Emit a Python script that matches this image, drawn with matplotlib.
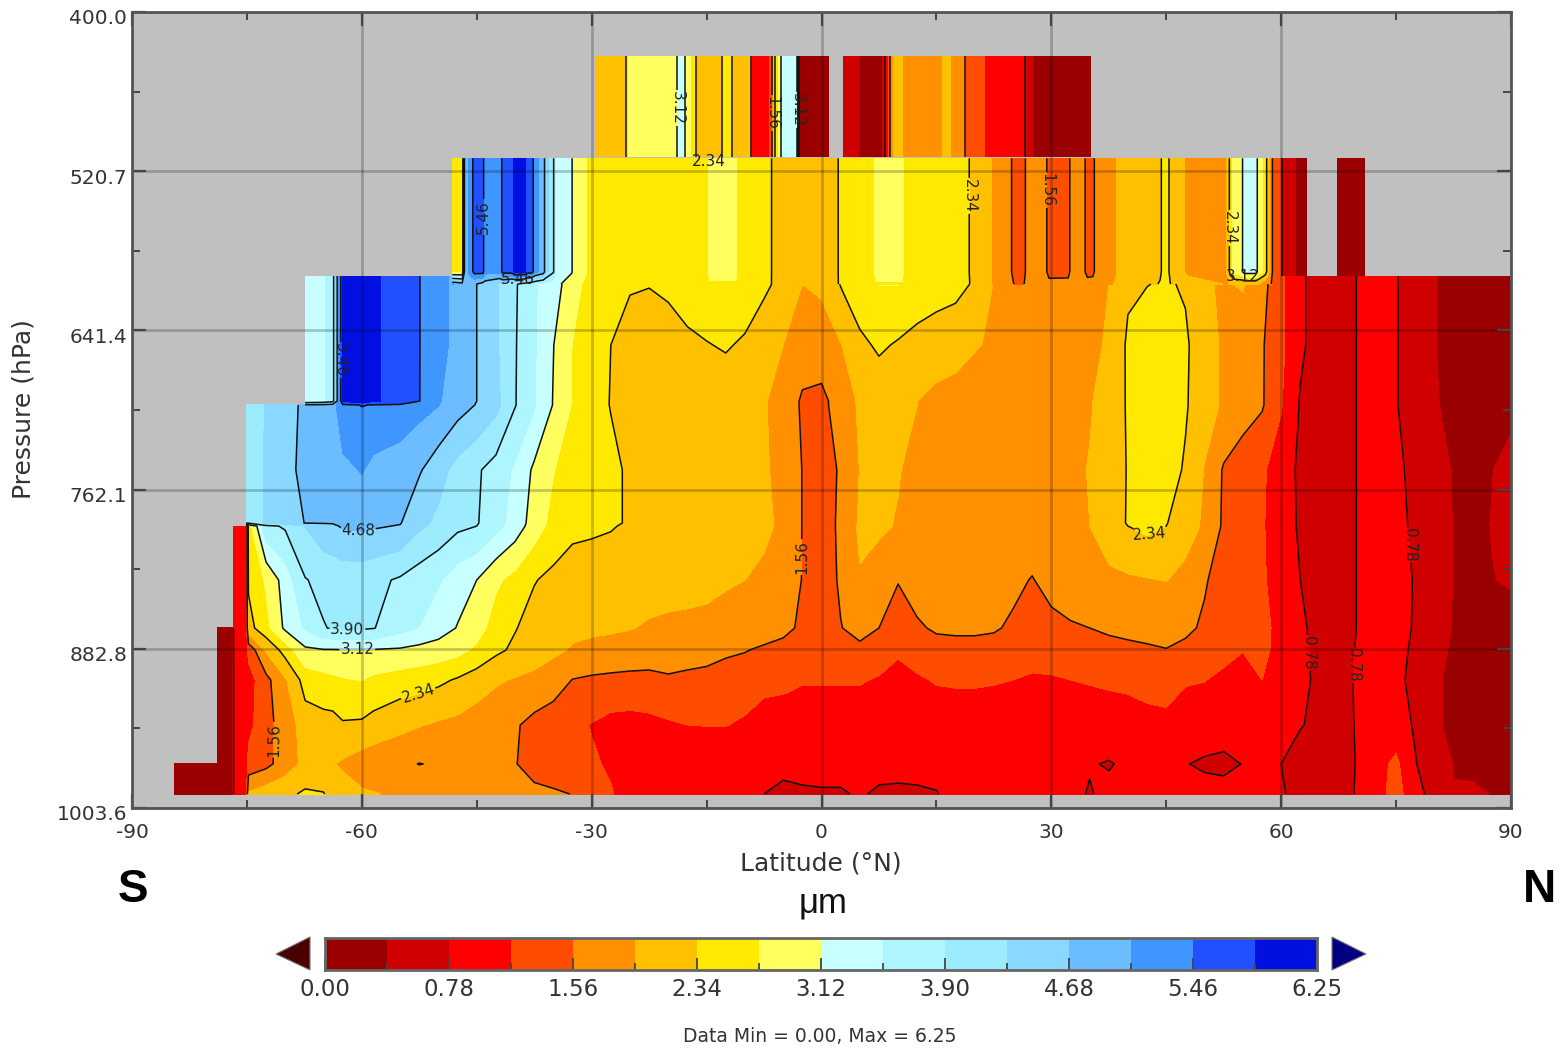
import numpy as np
import matplotlib
matplotlib.use("Agg")
import matplotlib.pyplot as plt
from matplotlib.patches import Polygon
from matplotlib.ticker import FixedLocator
from matplotlib.transforms import ScaledTranslation

nan = float("nan")

levels = [0.00,0.39,0.78,1.17,1.56,1.95,2.34,2.73,3.12,3.51,3.90,4.29,4.68,5.07,5.46,5.85,6.25]
colors = ["#9b0000","#d10000","#ff0000","#ff4d00","#ff9000","#ffc000","#ffe900","#ffff5f",
          "#c8ffff","#adf5ff","#9cebff","#88d8ff","#6cbdff","#4096ff","#2050ff","#0010e0"]
line_levels = [0.78,1.56,2.34,3.12,3.90,4.68,5.46]
lat_ticks = [-90,-60,-30,0,30,60,90]
p_ticks = [400.0,520.7,641.4,762.1,882.8,1003.6]
cbar_labels = ["0.00","0.78","1.56","2.34","3.12","3.90","4.68","5.46","6.25"]

main_lats = [-84.4,-78.8,-77.0,-76.7,-75.1,-74.8,-72.5,-70,
             -67.4,-65,-63.8,-62.5,-60,-58.5,-55,-52.5,-50,-47.5,
             -45,-42.5,-40,-37.5,-35,-32.5,-30,-27.5,-25,-22.5,
             -20,-17.5,-15,-12.5,-10,-7.5,-5,-2.5,0,2.5,
             5,7.5,10,12.5,15,17.5,20,22.5,25,27.5,
             30,32.5,35,37.5,40,42.5,45,47.5,50,52.5,
             55,57.5,60,62.5,65,67.5,70,72.5,75,77.5,
             80,82.5,85,87.5,90]
main_p = [600.2,606.3,652.5,695.0,698.0,747.3,787.5,789.8,830.7,867.1,883.8,906.5,940.7,970.2,993.0]

r276 = [nan,nan,nan,nan,nan,nan,nan,nan,
        3.3,3.45,3.7,5.9,6.2,5.9,5.7,5.47,5.2,4.95,
        nan,nan,nan,nan,nan,nan,nan,nan,nan,nan,
        nan,nan,nan,nan,nan,nan,nan,nan,nan,nan,
        nan,nan,nan,nan,nan,nan,nan,nan,nan,nan,
        nan,nan,nan,nan,nan,nan,nan,nan,nan,nan,
        nan,nan,1.25,.85,.6,.65,.79,1.0,.8,.6,
        .4,.3,.25,.25,.25]
r284 = [nan,nan,nan,nan,nan,nan,nan,nan,
        3.3,3.45,3.7,5.9,6.2,5.9,5.7,5.47,5.2,4.95,
        4.68,4.35,3.95,3.55,3.3,2.9,2.55,2.45,2.36,2.35,
        2.4,2.55,2.62,2.74,2.6,2.4,2.25,1.95,2.0,2.36,
        2.6,2.74,2.74,2.6,2.5,2.45,2.3,1.93,1.6,1.65,
        1.7,1.72,1.8,1.95,2.28,2.33,2.38,2.3,1.98,1.92,
        1.98,1.7,1.25,.85,.6,.65,.79,1.0,.8,.6,
        .4,.3,.25,.25,.25]
r345 = [nan,nan,nan,nan,nan,nan,nan,nan,
        3.3,3.45,3.7,5.9,6.2,5.9,5.7,5.47,5.2,4.95,
        4.68,4.35,3.93,3.55,3.13,2.72,2.45,2.34,2.25,2.2,
        2.2,2.25,2.32,2.38,2.28,2.15,1.95,1.8,1.8,1.93,
        2.25,2.4,2.3,2.2,2.15,2.1,1.98,1.9,1.75,1.75,
        1.72,1.75,1.85,2.0,2.4,2.55,2.55,2.4,2.1,1.9,
        1.75,1.6,1.25,.85,.6,.65,.79,1.0,.8,.6,
        .4,.3,.25,.25,.25]
r401 = [nan,nan,nan,nan,nan,nan,nan,nan,
        3.3,3.45,3.7,5.9,6.2,5.9,5.7,5.47,5.1,4.9,
        4.68,4.4,3.92,3.55,3.1,2.7,2.45,2.33,2.3,2.25,
        2.2,2.2,2.15,2.1,2.05,1.97,1.85,1.5,1.45,1.75,
        2.0,2.1,2.05,1.95,1.85,1.8,1.75,1.75,1.75,1.75,
        1.75,1.8,1.92,2.1,2.38,2.6,2.6,2.38,2.1,1.9,
        1.7,1.6,1.2,.75,.6,.65,.79,1.0,.8,.6,
        .42,.3,.25,.28,.3]
r405 = [nan,nan,nan,nan,3.95,3.98,4.32,4.55,
        4.75,4.8,4.9,5.4,5.47,5.45,5.42,5.2,5.08,4.85,
        4.66,4.4,3.92,3.55,3.1,2.7,2.45,2.33,2.3,2.25,
        2.2,2.2,2.15,2.1,2.05,1.97,1.85,1.5,1.45,1.75,
        2.0,2.1,2.05,1.95,1.85,1.8,1.75,1.75,1.75,1.75,
        1.75,1.8,1.92,2.1,2.38,2.6,2.6,2.38,2.1,1.9,
        1.7,1.6,1.2,.75,.6,.65,.79,1.0,.8,.6,
        .42,.3,.25,.28,.3]
r470 = [nan,nan,nan,nan,3.95,3.98,4.35,4.6,
        4.75,4.85,4.9,4.95,5.1,4.95,4.8,4.72,4.45,4.15,
        3.95,3.75,3.45,3.05,2.75,2.5,2.42,2.4,2.3,2.2,
        2.15,2.1,2.1,2.05,2.0,1.97,1.9,1.55,1.4,1.6,
        1.96,2.05,1.97,1.85,1.8,1.78,1.75,1.75,1.78,1.8,
        1.8,1.85,1.97,2.15,2.36,2.6,2.5,2.3,1.93,1.52,
        1.4,1.22,1.0,.7,.6,.65,.79,1.0,.88,.65,
        .5,.37,.28,.38,.5]
r523 = [nan,nan,nan,nan,3.95,3.98,4.35,4.5,
        4.69,4.7,4.7,4.72,4.75,4.72,4.7,4.4,4.2,4.0,
        3.93,3.65,3.35,2.95,2.6,2.42,2.4,2.37,2.32,2.2,
        2.15,2.12,2.1,2.1,2.08,2.0,1.9,1.55,1.4,1.62,
        2.0,2.0,1.93,1.8,1.75,1.75,1.75,1.78,1.8,1.8,
        1.82,1.9,1.95,2.2,2.36,2.45,2.36,2.1,1.9,1.5,
        1.35,1.2,1.0,.72,.6,.65,.79,1.0,.9,.7,
        .55,.38,.3,.4,.45]
r526 = [nan,nan,nan,.9,.95,2.5,3.8,3.95,
        4.3,4.55,4.62,4.72,4.75,4.72,4.66,4.35,4.18,3.98,
        3.9,3.63,3.33,2.93,2.58,2.41,2.39,2.36,2.3,2.2,
        2.15,2.12,2.1,2.1,2.08,2.0,1.9,1.55,1.4,1.62,
        2.02,2.0,1.93,1.8,1.75,1.75,1.75,1.78,1.8,1.8,
        1.82,1.9,1.95,2.2,2.34,2.43,2.34,2.1,1.9,1.5,
        1.35,1.2,1.0,.72,.6,.65,.79,1.0,.9,.7,
        .55,.38,.3,.4,.45]
r580 = [nan,nan,nan,.9,.95,2.4,2.78,3.3,
        3.88,4.0,4.02,4.05,4.05,4.0,3.85,3.7,3.55,3.3,
        3.12,2.8,2.6,2.36,2.25,2.2,2.18,2.17,2.15,2.15,
        2.15,2.1,2.05,1.98,1.95,1.9,1.75,1.55,1.4,1.6,
        1.92,1.8,1.57,1.7,1.75,1.75,1.75,1.75,1.65,1.54,
        1.7,1.78,1.8,1.85,1.9,1.93,1.96,1.85,1.6,1.38,
        1.3,1.22,1.0,.78,.62,.65,.79,1.0,.95,.75,
        .55,.38,.3,.38,.42]
r628 = [nan,.2,.2,.9,.95,2.2,2.6,3.2,
        3.55,3.88,3.93,3.97,3.95,3.92,3.65,3.5,3.3,3.1,
        2.9,2.55,2.36,2.2,2.1,2.02,2.0,2.0,1.97,1.9,
        1.85,1.85,1.85,1.85,1.82,1.75,1.65,1.5,1.42,1.55,
        1.65,1.56,1.45,1.52,1.6,1.62,1.62,1.6,1.5,1.42,
        1.45,1.52,1.56,1.6,1.63,1.66,1.68,1.64,1.5,1.35,
        1.3,1.25,1.08,.85,.65,.65,.79,1.0,.9,.75,
        .55,.37,.28,.28,.28]
r650 = [nan,.2,.2,.88,.95,1.3,2.0,2.5,
        3.05,3.1,3.1,3.11,3.11,3.1,3.07,3.0,2.95,2.85,
        2.65,2.42,2.27,2.15,2.02,1.92,1.88,1.82,1.75,1.68,
        1.68,1.68,1.67,1.62,1.58,1.5,1.45,1.4,1.37,1.4,
        1.5,1.35,1.22,1.35,1.45,1.45,1.45,1.42,1.35,1.3,
        1.32,1.4,1.45,1.48,1.5,1.52,1.55,1.47,1.38,1.27,
        1.18,1.22,1.1,.85,.68,.68,.8,1.0,.88,.72,
        .5,.34,.26,.26,.26]
r680 = [nan,.2,.2,.85,.95,1.0,1.45,1.9,
        2.5,2.6,2.65,2.7,2.74,2.65,2.55,2.5,2.42,2.3,
        2.15,2.0,1.92,1.85,1.75,1.55,1.5,1.48,1.48,1.5,
        1.53,1.5,1.47,1.4,1.35,1.25,1.25,1.2,1.2,1.2,
        1.2,1.14,1.05,1.12,1.2,1.22,1.22,1.2,1.17,1.13,
        1.14,1.17,1.2,1.23,1.25,1.3,1.28,1.2,1.18,1.1,
        1.05,1.17,.95,.85,.72,.72,.8,1.0,.85,.7,
        .45,.3,.25,.25,.25]
r725 = [nan,.2,.2,.85,.95,1.05,1.46,1.7,
        2.15,2.2,2.2,2.3,2.28,2.2,2.05,1.97,1.9,1.85,
        1.75,1.68,1.6,1.45,1.35,1.28,1.15,1.05,1.02,1.05,
        1.12,1.17,1.18,1.18,1.12,1.05,1.0,.95,.95,.95,
        .95,.95,.92,.95,.95,.95,.95,.95,.95,.95,
        .95,.95,.95,.97,1.0,1.05,1.1,1.0,.95,.95,
        .95,.93,.88,.8,.7,.7,.8,.95,.95,.74,
        .45,.3,.25,.25,.25]
r764 = [.2,.2,.2,.85,1.0,1.3,1.45,1.75,
        2.05,2.05,1.97,1.9,1.75,1.7,1.65,1.55,1.6,1.65,
        1.65,1.65,1.58,1.4,1.3,1.25,1.22,1.12,1.0,.95,
        .9,.88,.88,.88,.88,.88,.85,.85,.85,.85,
        .85,.85,.85,.85,.85,.85,.85,.85,.85,.85,
        .85,.83,.8,.76,.83,.85,.84,.79,.74,.7,
        .79,.85,.78,.62,.6,.65,.8,1.05,1.25,.8,
        .55,.38,.3,.25,.25]
r794 = [.2,.2,.2,.85,1.0,2.0,2.15,2.25,
        2.4,2.36,2.2,2.1,2.0,1.97,1.9,1.9,1.85,1.8,
        1.75,1.7,1.68,1.66,1.62,1.55,1.4,1.2,1.0,.9,
        .85,.85,.85,.85,.82,.78,.72,.75,.76,.76,
        .8,.75,.74,.75,.77,.85,.88,.88,.88,.88,
        .88,.85,.76,.85,.88,.88,.88,.88,.88,.9,
        .9,.88,.82,.65,.58,.62,.82,1.05,1.3,.95,
        .6,.4,.45,.38,.32]

band_lats = [-48.2,-46.9,-46.6,-45.9,-45.3,-44.2,-43.9,-42,-41.6,-40.4,-40,-38.8,-38.4,-37.8,-37.4,-36.3,-36,-35,-34.5,-32.6,
             -32.2,-30.7,-30.3,-15,-14.6,-11.2,-10.8,-6.7,-6.2,1.8,2.4,6.7,7.1,10.5,10.9,19.1,19.6,22,22.5,24.7,
             25.1,26.4,26.8,29.3,29.7,32.2,32.6,34.3,34.7,35.4,35.8,38.4,38.8,44.2,44.6,45.2,45.6,47.3,47.7,52.8,
             53.4,53.9,54.8,55.2,56.7,57.1,57.9,58.3,58.7,59.1,59.9]
band_p = [510.9,597.0,606.3]
band_upper = [2.5,2.5,4.7,5.2,5.6,5.6,5.2,5.2,5.6,5.65,6.0,6.0,5.7,5.65,5.2,4.9,4.45,3.95,3.3,3.15,
              2.9,2.75,2.55,2.6,2.85,2.85,2.55,2.42,2.2,2.2,2.42,2.55,2.85,2.85,2.55,2.42,2.2,2.1,1.8,1.62,
              1.4,1.4,1.7,1.62,1.4,1.4,1.7,1.62,1.4,1.4,1.7,1.9,2.1,2.3,2.4,2.4,2.25,2.0,1.8,1.9,
              2.5,2.9,3.0,3.3,3.3,2.9,2.6,2.1,1.7,1.35,1.25]
band_lower = [5.1,4.9,4.85,4.75,4.72,4.55,4.5,4.25,4.2,4.0,3.95,3.75,3.7,3.6,3.55,3.4,3.38,3.3,3.2,2.9,
              2.85,2.65,2.6,2.6,2.68,2.68,2.6,2.36,2.3,2.3,2.36,2.6,2.7,2.7,2.6,2.38,2.3,2.0,1.9,1.62,
              1.56,1.55,1.62,1.7,1.7,1.72,1.72,1.75,1.75,1.8,1.82,1.97,2.0,2.36,2.4,2.4,2.33,2.28,2.25,1.92,
              1.97,1.98,2.0,2.0,2.0,1.96,1.65,1.6,1.56,1.5,1.25]

stub1_lats = [59.9,60.2,61.8,62.0,63.4]
stub1_vals = [1.25,.6,.6,.25,.25]
stub2_lats = [67.3,71.0]
stub2_vals = [.25,.25]
stub_p = [510.9,600.2]

top_p = [433.4,510.0]
topw_lats = [-29.6,-25.7,-25.2,-19.1,-18.7,-18.0,-17.6,-16.6,-16.2,-13.2,-12.8,-11.8,-11.4,-9.4,-9.0,-7.2,-6.6,-6.2,-5.6,-5.0,-3.2,-2.9,1.0]
topw_vals = [2.1,2.1,2.9,2.9,3.3,3.3,2.9,2.6,2.1,2.1,2.5,2.5,2.1,2.1,1.0,1.0,1.3,2.1,2.9,3.3,3.3,.2,.2]
tope_lats = [2.8,4.8,5.0,7.8,8.1,8.5,8.8,9.1,9.4,10.5,10.7,15.4,15.9,16.8,17.2,18.6,18.9,21.0,21.5,26.4,26.7,27.3,27.7,35.2]
tope_vals = [.55,.55,.25,.25,.55,1.0,1.4,1.7,2.1,2.1,1.75,1.75,2.1,2.1,1.7,1.7,1.4,1.4,1.0,.95,.7,.65,.3,.3]

main_labels = [(-70.8,952.0),(-52.7,915.6),(-60.6,885.3),(-61.9,867.1),(-60.5,794.3),(-62.9,663.9),
               (-2.8,813.3),(42.9,797.4),(76.4,804.2),(63.1,886.1),(68.9,895.2)]
band_labels = [(-43.7,555.5),(18.7,539.5),(28.9,535.0),(52.3,563.8)]
top_labels = [(-19.4,472.8),(-7.0,476.6),(-3.2,474.3)]
free_labels = [("5.46",-39.6,602.5),("2.34",-14.7,513.0),("3.12",55.0,600.5)]

W, H = 1563, 1051
fig = plt.figure(figsize=(W/100, H/100), dpi=100)
plt.rcParams["font.family"] = "DejaVu Sans"
TXT = "#333333"
ax = fig.add_axes([132/W, 1-808/H, (1511-132)/W, (808-12)/H])
ax.set_facecolor("#c0c0c0")
ax.set_xlim(-90, 90)
ax.set_ylim(1003.6, 400)

def draw(lats, ps, rows):
    z = np.ma.masked_invalid(np.array(rows, dtype=float))
    ax.contourf(lats, ps, z, levels=levels, colors=colors, antialiased=False, corner_mask=False, zorder=1)
    return ax.contour(lats, ps, z, levels=line_levels, colors="#111111", linewidths=1.1, corner_mask=False, zorder=2)

rows_main = [r276,r284,r345,r401,r405,r470,r523,r526,r580,r628,r650,r680,r725,r764,r794]
cs_main = draw(main_lats, main_p, rows_main)
cs_band = draw(band_lats, band_p, [band_upper, band_upper, band_lower])
draw(stub1_lats, stub_p, [stub1_vals, stub1_vals])
draw(stub2_lats, stub_p, [stub2_vals, stub2_vals])
cs_top = draw(topw_lats, top_p, [topw_vals, topw_vals])
draw(tope_lats, top_p, [tope_vals, tope_vals])

for cs, pos in ((cs_main, main_labels), (cs_band, band_labels), (cs_top, top_labels)):
    labs = ax.clabel(cs, manual=pos, fmt="%.2f", fontsize=11, inline=True, inline_spacing=1, colors="#222222")
    for t in labs:
        if t.get_text() == "0.78":
            t.set_rotation(-90)
        if t.get_text() == "5.46" and cs is cs_band:
            t.set_rotation(90)
for lab, x, y in free_labels:
    ax.text(x, y, lab, fontsize=11, color="#222222", ha="center", va="center", zorder=3)

ax.set_xticks(lat_ticks)
ax.set_xticklabels([str(v) for v in lat_ticks])
ax.set_yticks(p_ticks)
ax.set_yticklabels(["%.1f" % v for v in p_ticks])
ax.xaxis.set_minor_locator(FixedLocator([-75,-45,-15,15,45,75]))
ax.yaxis.set_minor_locator(FixedLocator([460.35,581.05,701.75,822.45,943.2]))
ax.tick_params(which="major", direction="in", top=True, right=True, length=10, width=1.6,
               color="#444444", labelsize=14.5, labelcolor=TXT)
ax.tick_params(axis="x", which="major", pad=11)
ax.tick_params(axis="y", which="major", pad=3.5)
ax.tick_params(which="minor", direction="in", top=True, right=True, length=6, width=1.4, color="#444444")
ax.grid(True, which="major", color="#000000", alpha=0.22, linewidth=2.0, zorder=4)
ax.set_axisbelow(False)
for s in ax.spines.values():
    s.set_color("#555555")
    s.set_linewidth(2.0)
    s.set_zorder(6)
for lab in ax.get_yticklabels():
    lab.set_transform(lab.get_transform() + ScaledTranslation(0, -0.05, fig.dpi_scale_trans))

fig.text(24/W, 1-409/H, "Pressure (hPa)", rotation=90, fontsize=18, color=TXT, ha="center", va="center")
fig.text(821/W, 1-863/H, "Latitude (°N)", fontsize=18, color=TXT, ha="center", va="center")
fig.text(133/W, 1-890/H, "S", fontsize=33, fontweight="bold", family="Liberation Sans", color="black", ha="center", va="center")
fig.text(1540/W, 1-890/H, "N", fontsize=33, fontweight="bold", family="Liberation Sans", color="black", ha="center", va="center")
fig.text(823/W, 1-903/H, "μm", fontsize=25, family="Liberation Sans", color="#111111", ha="center", va="center")
fig.text(820/W, 1-1037/H, "Data Min = 0.00, Max = 6.25", fontsize=13.5, color=TXT, ha="center", va="center")

cax = fig.add_axes([325/W, 1-970/H, (1317-325)/W, 32/H])
cax.pcolormesh(np.arange(len(levels)), [0, 1], np.arange(len(colors)).reshape(1, -1),
               cmap=matplotlib.colors.ListedColormap(colors), vmin=-0.5, vmax=len(colors)-0.5)
cax.set_yticks([])
cax.set_xticks(np.arange(0, len(levels), 2))
cax.set_xticklabels(cbar_labels)
cax.set_xticks(np.arange(1, len(levels), 2), minor=True)
cax.tick_params(which="major", direction="in", length=8.5, width=1.3, color="#444444", labelsize=16.5, labelcolor=TXT, pad=6)
cax.tick_params(which="minor", direction="in", length=5, width=1.3, color="#444444")
for s in cax.spines.values():
    s.set_color("#666666")
    s.set_linewidth(2.0)

fig.add_artist(Polygon([[276/W, 1-954/H], [310/W, 1-937/H], [310/W, 1-970/H]], closed=True,
                       transform=fig.transFigure, facecolor="#4a0000", edgecolor="#777777", linewidth=0.8))
fig.add_artist(Polygon([[1366/W, 1-954/H], [1332/W, 1-937/H], [1332/W, 1-970/H]], closed=True,
                       transform=fig.transFigure, facecolor="#000080", edgecolor="#777777", linewidth=0.8))

fig.savefig("out.png", dpi=100)
